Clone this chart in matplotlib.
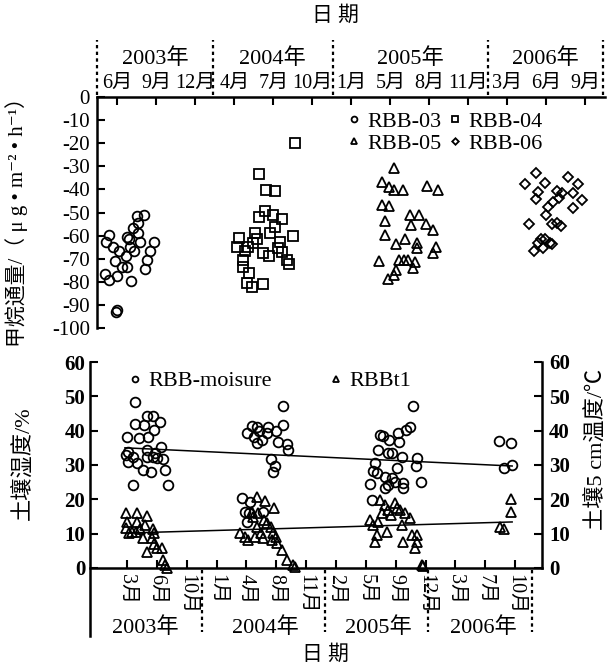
import matplotlib
matplotlib.use('Agg')
import matplotlib.pyplot as plt

plt.rcParams['font.family'] = ['Liberation Serif', 'Noto Sans CJK SC', 'DejaVu Sans']
plt.rcParams['axes.unicode_minus'] = False

# ---- 上图：甲烷通量 (x 为顶轴刻度序号) ----
top_months = ["6月", "9月", "12月", "4月", "7月", "10月", "1月", "5月", "8月", "11月", "3月", "6月", "9月"]
top_years = ["2003年", "2004年", "2005年", "2006年"]
top_year_pos = [0.97, 3.97, 7.5, 10.97]
top_sep = [-0.51, 2.46, 5.54, 9.49, 12.46]

rbb03_x = [-0.21, -0.28, -0.10, 0.05, -0.05, 0.13, 0.23, 0.26, 0.31, 0.41, 0.54, 0.51, 0.69, 0.54,
           0.59, 0.44, 0.33, 0.95, 0.85, 0.77, 0.72, -0.31, -0.21, 0.0, 0.36, 0.0, -0.03, 0.26]
rbb03_y = [-59.7, -62.8, -65.0, -66.7, -71.0, -73.6, -69.0, -60.6, -61.5, -56.7, -54.5, -51.5, -51.0, -58.9,
           -62.8, -66.7, -64.9, -62.8, -66.7, -70.6, -74.5, -76.6, -79.2, -77.5, -79.7, -92.2, -93.1, -73.5]

rbb04_x = [4.56, 3.62, 3.82, 4.05, 3.79, 3.64, 4.0, 4.23, 4.05, 3.92, 4.51, 3.13, 3.54, 3.59, 3.49, 3.36,
           3.08, 3.28, 4.18, 4.13, 4.23, 3.74, 3.90, 4.36, 4.41, 3.21, 3.21, 3.38, 3.33, 3.46, 3.74]
rbb04_y = [-20, -33.3, -40.3, -40.7, -49.4, -52, -51, -52.8, -56.3, -58.9, -60.2, -61, -58.9, -61.5, -63.2, -64.9,
           -64.9, -66.7, -62.8, -65.4, -67, -67.5, -68.8, -70.6, -72.3, -70.6, -73.6, -76.2, -80.5, -82.2, -81]

rbb05_x = [7.08, 6.79, 6.97, 7.08, 7.33, 7.95, 8.23, 6.79, 6.97, 6.87, 7.51, 7.74, 7.54, 7.92, 8.08, 6.87,
           7.38, 7.15, 7.69, 7.69, 8.18, 8.08, 6.72, 7.23, 7.36, 7.46, 7.64, 7.59, 7.15, 7.08, 6.95]
rbb05_y = [-30.7, -36.8, -39, -40.3, -40.3, -38.5, -40.3, -46.8, -47.2, -53.7, -51, -51, -55.4, -55, -57.6, -59.7,
           -61.5, -63.6, -63.2, -65.4, -64.9, -67.5, -71, -70.6, -70.6, -70.6, -71.4, -74, -74.9, -77, -78.8]

rbb06_x = [10.74, 10.46, 10.97, 11.54, 11.82, 10.79, 11.28, 11.41, 11.69, 10.72, 11.31, 11.18, 11.90, 11.03,
           11.69, 11.0, 10.56, 11.15, 11.28, 11.38, 10.85, 10.97, 11.08, 10.77, 10.92, 10.69, 11.13]
rbb06_y = [-32.9, -37.7, -37.2, -34.6, -37.7, -41, -40.7, -41.6, -41.6, -44.2, -43.7, -45.5, -44.6, -47.6,
           -48, -51, -55, -55, -54.5, -55.8, -61.5, -61.5, -63.2, -63.2, -65.4, -66.7, -63.6]

# ---- 下图：土壤湿度与温度 (x 为底轴刻度序号) ----
bot_months = ["3月", "6月", "10月", "1月", "4月", "8月", "11月", "2月", "5月", "9月", "12月", "3月", "7月", "10月"]
bot_years = ["2003年", "2004年", "2005年", "2006年"]
bot_year_pos = [0.6, 4.62, 8.41, 11.93]
bot_sep = [2.51, 6.63, 10.08, 13.57]

moist_x = [0.27, 0, 0.27, 0.40, 0.57, 0.67, 0.87, 1.11, 0.90, 0.70, 0.67, 0.03, -0.03, 0.20, 0.03, 0.34,
           0.54, 0.80, 0.67, 0.87, 1.01, 1.21, 1.14, 1.27, 0.20, 1.37, 0.94,
           4.02, 4.19, 4.36, 4.25, 4.42, 4.36, 4.52, 4.72, 4.69, 4.99, 5.23, 5.23, 5.06, 5.36, 5.39, 4.82,
           4.96, 4.89, 3.85, 4.12, 3.95, 4.09, 4.02, 4.56,
           9.58, 9.48, 9.35, 9.08, 9.11, 8.48, 8.58, 8.78, 8.41, 8.74, 8.88, 9.21, 9.72, 9.68, 8.31, 8.24,
           8.38, 9.05, 8.64, 8.88, 8.98, 9.25, 8.74, 8.14, 9.85, 8.64, 9.25, 8.21, 12.46, 12.86, 12.63, 12.90]
moist_y = [48.4, 38.2, 42, 37.9, 41.7, 44.3, 44.3, 42.6, 40.2, 38.2, 34.4, 33.8, 32.9, 32.4, 30.9, 30.6,
           28.6, 28, 32.4, 32.4, 32, 31.8, 35.3, 28.6, 24.2, 24.2, 33.5,
           39.4, 41.4, 41.1, 38.2, 40, 36.4, 37.3, 41.1, 39.4, 40, 41.7, 47.2, 36.7, 36.2, 34.4, 31.8,
           29.7, 28, 20.4, 19.2, 16.3, 16, 13.4, 16.3,
           47.2, 41.1, 40.2, 39.4, 36.7, 38.8, 38.5, 37.3, 34.4, 33.5, 33.5, 32.4, 32.1, 29.7, 30.6, 28.3,
           27.7, 29.2, 26.5, 26.2, 25.1, 24.8, 24.2, 24.5, 25.1, 23.3, 23.3, 19.8, 37, 36.4, 29.2, 30]

temp_x = [-0.03, 0.34, 0.67, 0, 0.34, 0.60, -0.03, 0.17, 0.30, 0.44, 0.87, 0.90, 0.54, 0.84, 0.90, 0.67,
          1.01, 1.17, 1.21, 1.27, 1.34, 0.07,
          4.36, 4.62, 4.92, 4.19, 4.22, 4.39, 4.59, 4.69, 4.36, 4.49, 3.79, 3.95, 4.05, 4.29, 4.56, 4.89,
          4.99, 4.86, 5.03, 5.19, 5.36, 5.56, 5.63, 4.82,
          8.48, 8.64, 8.98, 8.74, 9.05, 9.15, 9.31, 8.54, 8.14, 8.41, 8.24, 8.84, 9.21, 9.48, 8.71, 8.38,
          8.31, 9.25, 9.55, 9.72, 9.72, 9.65, 9.88, 9.92, 12.86, 12.86, 12.50, 12.63]
temp_y = [16, 16, 15.2, 13.4, 13.4, 12.5, 11.7, 10.5, 10.5, 11.4, 11.4, 10.2, 8.7, 8.7, 7, 4.7,
          5.8, 5.8, 2.3, 0.9, 0, 10.2,
          20.7, 19.5, 17.5, 16.3, 14.9, 16, 14, 13.1, 12, 10.2, 10.2, 9, 8.2, 9, 8.7, 10.2,
          9, 8.2, 7.3, 5.2, 2.3, 0.9, 0.3, 12,
          19.8, 18.4, 19, 16.9, 17.5, 16.9, 16, 16, 14, 13.4, 12.5, 15.5, 12.5, 14.6, 10.5, 9.6,
          7.6, 7.6, 9.6, 9.6, 7.6, 5.8, 0.9, 0.6, 20.1, 16.3, 12, 11.4]

# 趋势线端点
moist_trend_x = [-0.07, 12.9]
moist_trend_y = [35.0, 29.7]
temp_trend_x = [0.1, 12.9]
temp_trend_y = [10.2, 13.4]

W, H = 614, 669
fig = plt.figure(figsize=(W / 100, H / 100), dpi=100)

mk = dict(linestyle='none', markerfacecolor='none', markeredgecolor='black', markeredgewidth=1.3)

# =============================================================================
# 上图
# =============================================================================
ax1 = fig.add_axes([97 / W, 1 - 328 / H, (605 - 97) / W, (328 - 97) / H])
h03, = ax1.plot(rbb03_x, rbb03_y, marker='o', markersize=7, label='RBB-03', **mk)
h04, = ax1.plot(rbb04_x, rbb04_y, marker='s', markersize=7, label='RBB-04', **mk)
h05, = ax1.plot(rbb05_x, rbb05_y, marker='^', markersize=7.5, label='RBB-05', **mk)
h06, = ax1.plot(rbb06_x, rbb06_y, marker='D', markersize=5.5, label='RBB-06', **mk)

ax1.set_xlim(-0.52, 12.5)
ax1.set_ylim(-100, 0)
ax1.xaxis.tick_top()
ax1.set_xticks(range(len(top_months)))
ax1.set_xticklabels(top_months)
ax1.set_yticks(range(-100, 1, 10))
ax1.tick_params(axis='both', direction='in', length=6, width=1.5, labelsize=15)
ax1.tick_params(axis='x', pad=3, labelsize=14.5)
ax1.tick_params(axis='y', pad=5)
for s in ['right', 'bottom']:
    ax1.spines[s].set_visible(False)
for s in ['left', 'top']:
    ax1.spines[s].set_linewidth(1.8)
ax1.set_ylabel('甲烷通量/（ μ g • m⁻² • h⁻¹）', fontsize=15)
ax1.yaxis.set_label_coords(-0.135, 0.48)

trans1 = ax1.get_xaxis_transform()
for xs in top_sep:
    ax1.plot([xs, xs], [1.01, 1.247], transform=trans1, clip_on=False,
             color='black', linestyle=(0, (1.5, 1.5)), linewidth=1.6)
for name, xp in zip(top_years, top_year_pos):
    ax1.text(xp, 1.165, name, transform=trans1, ha='center', va='center', fontsize=16)
fig.text(335 / W, 1 - 16 / H, '日 期', ha='center', va='center', fontsize=15)

ax1.legend([h03, h05, h04, h06], ['RBB-03', 'RBB-05', 'RBB-04', 'RBB-06'],
           loc='upper left', bbox_to_anchor=(0.475, 0.975), ncol=2, frameon=False, fontsize=16,
           markerscale=0.6, handlelength=0.6, handletextpad=0.3, columnspacing=0.3,
           labelspacing=0.05, borderaxespad=0)

# =============================================================================
# 下图
# =============================================================================
y_low = -(636 - 568) / 3.43
ax2 = fig.add_axes([90 / W, 1 - 636 / H, (542 - 90) / W, (636 - 362) / H])
ax2.plot(moist_x, moist_y, marker='o', markersize=7, label='RBB-moisure', **mk)
ax2.plot(temp_x, temp_y, marker='^', markersize=7.5, label='RBBt1', **mk)
ax2.plot(moist_trend_x, moist_trend_y, color='black', linewidth=1.1)
ax2.plot(temp_trend_x, temp_trend_y, color='black', linewidth=1.1)

ax2.set_xlim(-1.24, 13.9)
ax2.set_ylim(y_low, 60)
ax2.spines['bottom'].set_position(('data', 0))
ax2.spines['bottom'].set_linewidth(1.8)
ax2.spines['left'].set_linewidth(1.8)
ax2.spines['top'].set_visible(False)
ax2.spines['right'].set_visible(False)
ax2.set_xticks(range(len(bot_months)))
ax2.set_xticklabels(bot_months, rotation=-90, fontsize=14.5)
ax2.set_yticks(range(0, 61, 10))
ax2.set_yticklabels([str(v) for v in range(0, 61, 10)], fontweight='bold', fontsize=15)
ax2.tick_params(axis='both', direction='in', length=6, width=1.5)
ax2.tick_params(axis='x', pad=4)
ax2.set_ylabel('土壤湿度/%', fontsize=16)
ax2.yaxis.set_label_coords(-0.125, 0.63)

ax3 = ax2.twinx()
ax3.set_ylim(y_low, 60)
ax3.set_yticks(range(0, 61, 10))
ax3.set_yticklabels([str(v) for v in range(0, 61, 10)], fontweight='bold', fontsize=15)
ax3.tick_params(axis='y', direction='in', length=6, width=1.5, pad=5)
ax3.spines['right'].set_bounds(0, 60)
ax3.spines['right'].set_linewidth(1.8)
for s in ['left', 'top', 'bottom']:
    ax3.spines[s].set_visible(False)
ax3.set_ylabel('土壤5 cm温度/℃', fontsize=16)
ax3.yaxis.set_label_coords(1.095, 0.68)

for xs in bot_sep:
    ax2.plot([xs, xs], [-0.6, -18.7], clip_on=False, color='black',
             linestyle=(0, (1.5, 1.5)), linewidth=1.6)
for name, xp in zip(bot_years, bot_year_pos):
    ax2.text(xp, -17.3, name, ha='center', va='center', fontsize=16)
fig.text(325 / W, 1 - 655 / H, '日 期', ha='center', va='center', fontsize=15)

ax2.legend(loc='upper left', bbox_to_anchor=(0.065, 1.0), ncol=2, frameon=False, fontsize=16,
           markerscale=0.6, handlelength=0.6, handletextpad=0.3, columnspacing=2.6,
           borderaxespad=0)

fig.savefig('out.png', dpi=100)
